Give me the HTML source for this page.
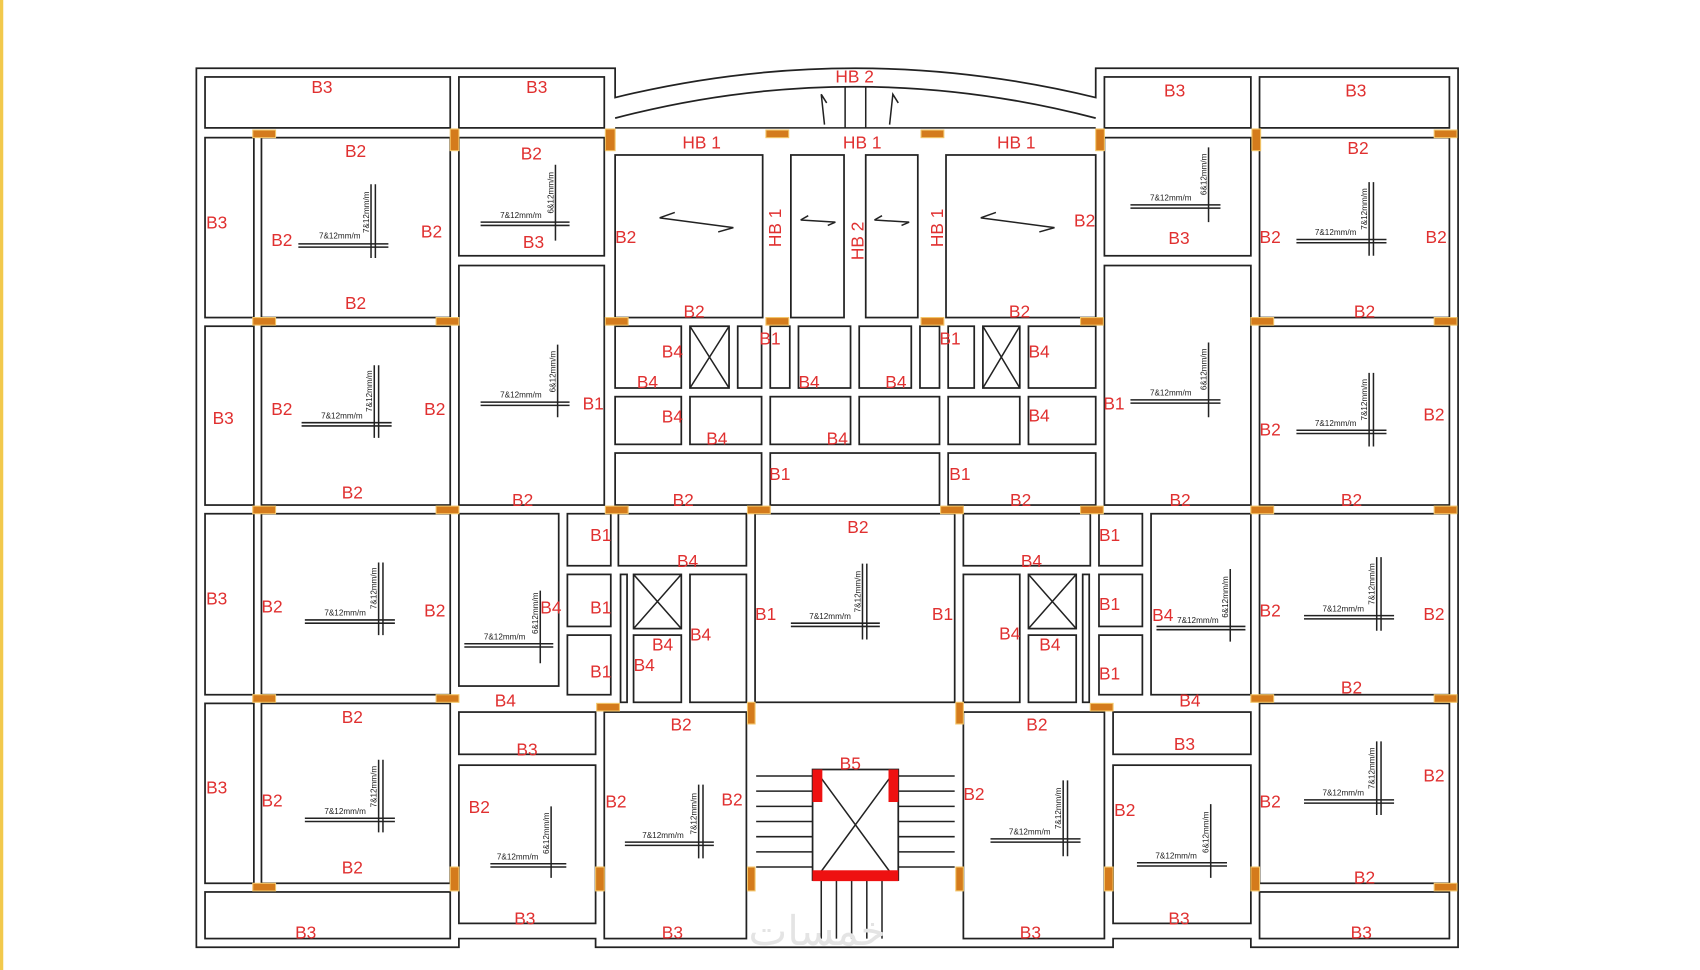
<!DOCTYPE html>
<html><head><meta charset="utf-8"><style>
html,body{margin:0;padding:0;background:#fff;width:1700px;height:970px;overflow:hidden}
svg{display:block}
.r{fill:none;stroke:#222;stroke-width:1.6}
.l{stroke:#222;stroke-width:1.4;fill:none}
.c{fill:#d47b1c;stroke:#f3c66a;stroke-width:1}
text{font-family:"Liberation Sans",sans-serif}
.t{fill:#e03030;font-size:16px}
.s{fill:#222;font-size:7.5px}
.red{fill:#ee1111}
</style></head><body>
<svg width="1700" height="970" viewBox="0 0 1567 895" preserveAspectRatio="none" xmlns="http://www.w3.org/2000/svg">
<rect x="0" y="0" width="3" height="895" fill="#f2c94c"/>
<!-- outer boundary -->
<path class="r" d="M181,874 V63 H567 V90 Q788,36 1010,90 V63 H1344 V874 H1153 V866 H1026 V874 H880 V874 H549 V866 H423 V874 Z"/>
<path class="r" d="M567,109 Q788,51 1010,109"/>
<path class="l" d="M567,118 H1010 M779,118 V80 M798,118 V80"/>
<path class="l" d="M760,115 L757,87 L762,95 M820,115 L823,87 L828,95" />
<!-- left wing -->
<rect class="r" x="189" y="71" width="226" height="47"/>
<rect class="r" x="423" y="71" width="134" height="47"/>
<rect class="r" x="189" y="127" width="45" height="166"/>
<rect class="r" x="241" y="127" width="174" height="166"/>
<rect class="r" x="189" y="301" width="45" height="165"/>
<rect class="r" x="241" y="301" width="174" height="165"/>
<rect class="r" x="189" y="474" width="45" height="167"/>
<rect class="r" x="241" y="474" width="174" height="167"/>
<rect class="r" x="189" y="649" width="45" height="166"/>
<rect class="r" x="241" y="649" width="174" height="166"/>
<rect class="r" x="189" y="823" width="226" height="43"/>
<rect class="r" x="423" y="127" width="134" height="109"/>
<rect class="r" x="423" y="245" width="134" height="221"/>
<rect class="r" x="423" y="474" width="92" height="159"/>
<rect class="r" x="523" y="474" width="40" height="48"/>
<rect class="r" x="523" y="530" width="40" height="48"/>
<rect class="r" x="523" y="586" width="40" height="55"/>
<rect class="r" x="570" y="474" width="118" height="48"/>
<rect class="r" x="572" y="530" width="6" height="118"/>
<rect class="r" x="584" y="530" width="44" height="50"/>
<path class="l" d="M584,530 L628,580 M628,530 L584,580"/>
<rect class="r" x="584" y="586" width="44" height="62"/>
<rect class="r" x="636" y="530" width="52" height="118"/>
<rect class="r" x="423" y="657" width="126" height="39"/>
<rect class="r" x="423" y="706" width="126" height="146"/>
<rect class="r" x="557" y="657" width="131" height="209"/>
<!-- center top -->
<rect class="r" x="567" y="143" width="136" height="150"/>
<rect class="r" x="729" y="143" width="49" height="150"/>
<rect class="r" x="798" y="143" width="48" height="150"/>
<rect class="r" x="872" y="143" width="138" height="150"/>
<rect class="r" x="567" y="301" width="61" height="57"/>
<rect class="r" x="636" y="301" width="36" height="57"/>
<path class="l" d="M636,301 L672,358 M672,301 L636,358"/>
<rect class="r" x="680" y="301" width="22" height="57"/>
<rect class="r" x="710" y="301" width="18" height="57"/>
<rect class="r" x="736" y="301" width="48" height="57"/>
<rect class="r" x="792" y="301" width="48" height="57"/>
<rect class="r" x="848" y="301" width="18" height="57"/>
<rect class="r" x="874" y="301" width="24" height="57"/>
<rect class="r" x="906" y="301" width="34" height="57"/>
<path class="l" d="M906,301 L940,358 M940,301 L906,358"/>
<rect class="r" x="948" y="301" width="62" height="57"/>
<rect class="r" x="567" y="366" width="61" height="44"/>
<rect class="r" x="636" y="366" width="66" height="44"/>
<rect class="r" x="710" y="366" width="74" height="44"/>
<rect class="r" x="792" y="366" width="74" height="44"/>
<rect class="r" x="874" y="366" width="66" height="44"/>
<rect class="r" x="948" y="366" width="62" height="44"/>
<rect class="r" x="567" y="418" width="135" height="48"/>
<rect class="r" x="710" y="418" width="156" height="48"/>
<rect class="r" x="874" y="418" width="136" height="48"/>
<rect class="r" x="696" y="474" width="184" height="174"/>
<!-- right side center -->
<rect class="r" x="888" y="474" width="117" height="48"/>
<rect class="r" x="888" y="530" width="52" height="118"/>
<rect class="r" x="948" y="530" width="44" height="50"/>
<path class="l" d="M948,530 L992,580 M992,530 L948,580"/>
<rect class="r" x="948" y="586" width="44" height="62"/>
<rect class="r" x="998" y="530" width="6" height="118"/>
<rect class="r" x="1013" y="474" width="40" height="48"/>
<rect class="r" x="1013" y="530" width="40" height="48"/>
<rect class="r" x="1013" y="586" width="40" height="55"/>
<rect class="r" x="1061" y="474" width="92" height="167"/>
<rect class="r" x="888" y="657" width="130" height="209"/>
<rect class="r" x="1026" y="657" width="127" height="39"/>
<rect class="r" x="1026" y="706" width="127" height="146"/>
<!-- right wing -->
<rect class="r" x="1018" y="71" width="135" height="47"/>
<rect class="r" x="1161" y="71" width="175" height="47"/>
<rect class="r" x="1018" y="127" width="135" height="109"/>
<rect class="r" x="1018" y="245" width="135" height="221"/>
<rect class="r" x="1161" y="127" width="175" height="166"/>
<rect class="r" x="1161" y="301" width="175" height="165"/>
<rect class="r" x="1161" y="474" width="175" height="167"/>
<rect class="r" x="1161" y="649" width="175" height="166"/>
<rect class="r" x="1161" y="823" width="175" height="43"/>
<!-- stair -->
<path class="l" d="M697,716 H749 M697,730 H749 M697,744 H749 M697,758 H749 M697,772 H749 M697,786 H749 M697,800 H749 M828,716 H880 M828,730 H880 M828,744 H880 M828,758 H880 M828,772 H880 M828,786 H880 M828,800 H880 M757,812 V866 M771,812 V866 M785,812 V866 M799,812 V866 M813,812 V866"/>
<rect class="r" x="749" y="710" width="79" height="102"/>
<path class="l" d="M757,718 L820,804 M820,718 L757,804"/>
<rect class="red" x="749" y="710" width="9" height="30"/>
<rect class="red" x="819" y="710" width="9" height="30"/>
<rect class="red" x="749" y="803" width="79" height="10"/>
<!-- columns -->
<g class="c">
<rect x="233" y="120" width="21" height="7"/><rect x="415" y="119" width="8" height="20"/><rect x="558" y="119" width="9" height="20"/><rect x="706" y="120" width="21" height="7"/><rect x="849" y="120" width="21" height="7"/><rect x="1010" y="119" width="8" height="20"/><rect x="1154" y="119" width="8" height="20"/><rect x="1322" y="120" width="21" height="7"/>
<rect x="233" y="293" width="21" height="7"/><rect x="402" y="293" width="21" height="7"/><rect x="558" y="293" width="21" height="7"/><rect x="706" y="293" width="21" height="7"/><rect x="849" y="293" width="21" height="7"/><rect x="996" y="293" width="21" height="7"/><rect x="1153" y="293" width="21" height="7"/><rect x="1322" y="293" width="21" height="7"/>
<rect x="233" y="467" width="21" height="7"/><rect x="402" y="467" width="21" height="7"/><rect x="558" y="467" width="21" height="7"/><rect x="689" y="467" width="21" height="7"/><rect x="867" y="467" width="21" height="7"/><rect x="996" y="467" width="21" height="7"/><rect x="1153" y="467" width="21" height="7"/><rect x="1322" y="467" width="21" height="7"/>
<rect x="233" y="641" width="21" height="7"/><rect x="402" y="641" width="21" height="7"/><rect x="550" y="649" width="21" height="7"/><rect x="689" y="648" width="7" height="20"/><rect x="881" y="648" width="7" height="20"/><rect x="1005" y="649" width="21" height="7"/><rect x="1153" y="641" width="21" height="7"/><rect x="1322" y="641" width="21" height="7"/>
<rect x="233" y="815" width="21" height="7"/><rect x="415" y="800" width="8" height="22"/><rect x="549" y="800" width="8" height="22"/><rect x="689" y="800" width="7" height="22"/><rect x="881" y="800" width="7" height="22"/><rect x="1018" y="800" width="8" height="22"/><rect x="1153" y="800" width="8" height="22"/><rect x="1322" y="815" width="21" height="7"/>
</g>
<!-- arrows in stair rooms -->
<path class="l" d="M608,201 L676,210 L662,214 M608,201 L622,196 M738,203 L770,205 L763,208 M738,203 L745,199 M806,203 L838,205 L831,208 M806,203 L813,199 M904,201 L972,210 L958,214 M904,201 L918,196"/>
<!-- rebar marks -->
<g class="l">
<path d="M275,225 H358 M275,228 H358 M342,170 V238 M346,170 V238"/>
<path d="M278,390 H361 M278,393 H361 M345,337 V404 M349,337 V404"/>
<path d="M281,572 H364 M281,575 H364 M349,519 V586 M353,519 V586"/>
<path d="M281,755 H364 M281,758 H364 M349,701 V768 M353,701 V768"/>
<path d="M443,205 H525 M443,208 H525 M512,152 V222"/>
<path d="M443,371 H525 M443,374 H525 M514,318 V385"/>
<path d="M428,594 H510 M428,597 H510 M498,545 V612"/>
<path d="M452,797 H522 M452,800 H522 M508,744 V810"/>
<path d="M576,777 H658 M576,780 H658 M644,724 V792 M648,724 V792"/>
<path d="M729,575 H811 M729,578 H811 M795,520 V590 M799,520 V590"/>
<path d="M913,774 H996 M913,777 H996 M980,720 V790 M984,720 V790"/>
<path d="M1042,189 H1125 M1042,192 H1125 M1114,136 V205"/>
<path d="M1042,369 H1125 M1042,372 H1125 M1114,316 V385"/>
<path d="M1066,578 H1148 M1066,581 H1148 M1134,525 V592"/>
<path d="M1048,796 H1131 M1048,799 H1131 M1116,742 V810"/>
<path d="M1195,221 H1278 M1195,224 H1278 M1262,168 V236 M1266,168 V236"/>
<path d="M1195,397 H1278 M1195,400 H1278 M1262,344 V412 M1266,344 V412"/>
<path d="M1202,568 H1285 M1202,571 H1285 M1269,514 V582 M1273,514 V582"/>
<path d="M1202,738 H1285 M1202,741 H1285 M1269,684 V752 M1273,684 V752"/>
</g>
<g class="s">
<text x="294" y="220">7&amp;12mm/m</text><text transform="translate(340,215) rotate(-90)">7&amp;12mm/m</text>
<text x="296" y="386">7&amp;12mm/m</text><text transform="translate(343,380) rotate(-90)">7&amp;12mm/m</text>
<text x="299" y="568">7&amp;12mm/m</text><text transform="translate(347,562) rotate(-90)">7&amp;12mm/m</text>
<text x="299" y="751">7&amp;12mm/m</text><text transform="translate(347,745) rotate(-90)">7&amp;12mm/m</text>
<text x="461" y="201">7&amp;12mm/m</text><text transform="translate(510,197) rotate(-90)">6&amp;12mm/m</text>
<text x="461" y="367">7&amp;12mm/m</text><text transform="translate(512,362) rotate(-90)">6&amp;12mm/m</text>
<text x="446" y="590">7&amp;12mm/m</text><text transform="translate(496,585) rotate(-90)">6&amp;12mm/m</text>
<text x="458" y="793">7&amp;12mm/m</text><text transform="translate(506,788) rotate(-90)">6&amp;12mm/m</text>
<text x="592" y="773">7&amp;12mm/m</text><text transform="translate(642,770) rotate(-90)">7&amp;12mm/m</text>
<text x="746" y="571">7&amp;12mm/m</text><text transform="translate(793,565) rotate(-90)">7&amp;12mm/m</text>
<text x="930" y="770">7&amp;12mm/m</text><text transform="translate(978,765) rotate(-90)">7&amp;12mm/m</text>
<text x="1060" y="185">7&amp;12mm/m</text><text transform="translate(1112,180) rotate(-90)">6&amp;12mm/m</text>
<text x="1060" y="365">7&amp;12mm/m</text><text transform="translate(1112,360) rotate(-90)">6&amp;12mm/m</text>
<text x="1085" y="575">7&amp;12mm/m</text><text transform="translate(1132,570) rotate(-90)">6&amp;12mm/m</text>
<text x="1065" y="792">7&amp;12mm/m</text><text transform="translate(1114,787) rotate(-90)">6&amp;12mm/m</text>
<text x="1212" y="217">7&amp;12mm/m</text><text transform="translate(1260,212) rotate(-90)">7&amp;12mm/m</text>
<text x="1212" y="393">7&amp;12mm/m</text><text transform="translate(1260,388) rotate(-90)">7&amp;12mm/m</text>
<text x="1219" y="564">7&amp;12mm/m</text><text transform="translate(1267,558) rotate(-90)">7&amp;12mm/m</text>
<text x="1219" y="734">7&amp;12mm/m</text><text transform="translate(1267,728) rotate(-90)">7&amp;12mm/m</text>
</g>
<!-- labels -->
<g class="t">
<text x="287" y="86">B3</text><text x="485" y="86">B3</text><text x="770" y="76">HB 2</text><text x="1073" y="89">B3</text><text x="1240" y="89">B3</text>
<text x="629" y="137">HB 1</text><text x="777" y="137">HB 1</text><text x="919" y="137">HB 1</text>
<text x="318" y="145">B2</text><text x="480" y="147">B2</text><text x="1242" y="142">B2</text>
<text x="190" y="211">B3</text><text x="250" y="227">B2</text><text x="388" y="219">B2</text><text x="482" y="229">B3</text><text x="567" y="224">B2</text><text x="990" y="209">B2</text><text x="1077" y="225">B3</text><text x="1161" y="224">B2</text><text x="1314" y="224">B2</text>
<text transform="translate(720,228) rotate(-90)">HB 1</text><text transform="translate(796,240) rotate(-90)">HB 2</text><text transform="translate(869,228) rotate(-90)">HB 1</text>
<text x="318" y="285">B2</text><text x="630" y="293">B2</text><text x="930" y="293">B2</text><text x="1248" y="293">B2</text>
<text x="610" y="330">B4</text><text x="700" y="318">B1</text><text x="866" y="318">B1</text><text x="948" y="330">B4</text>
<text x="587" y="358">B4</text><text x="736" y="358">B4</text><text x="816" y="358">B4</text>
<text x="196" y="391">B3</text><text x="250" y="383">B2</text><text x="391" y="383">B2</text><text x="537" y="378">B1</text><text x="610" y="390">B4</text><text x="948" y="389">B4</text><text x="1017" y="378">B1</text><text x="1161" y="402">B2</text><text x="1312" y="388">B2</text>
<text x="651" y="410">B4</text><text x="762" y="410">B4</text>
<text x="709" y="443">B1</text><text x="875" y="443">B1</text>
<text x="315" y="460">B2</text><text x="472" y="467">B2</text><text x="620" y="467">B2</text><text x="931" y="467">B2</text><text x="1078" y="467">B2</text><text x="1236" y="467">B2</text>
<text x="781" y="492">B2</text><text x="544" y="499">B1</text><text x="1013" y="499">B1</text><text x="624" y="523">B4</text><text x="941" y="523">B4</text>
<text x="190" y="558">B3</text><text x="241" y="565">B2</text><text x="391" y="569">B2</text><text x="498" y="566">B4</text><text x="544" y="566">B1</text><text x="696" y="572">B1</text><text x="859" y="572">B1</text><text x="1013" y="563">B1</text><text x="1062" y="573">B4</text><text x="1161" y="569">B2</text><text x="1312" y="572">B2</text>
<text x="601" y="600">B4</text><text x="636" y="591">B4</text><text x="921" y="590">B4</text><text x="958" y="600">B4</text>
<text x="544" y="625">B1</text><text x="584" y="619">B4</text><text x="1013" y="627">B1</text>
<text x="456" y="652">B4</text><text x="1087" y="652">B4</text><text x="1236" y="640">B2</text>
<text x="315" y="667">B2</text><text x="618" y="674">B2</text><text x="946" y="674">B2</text>
<text x="476" y="697">B3</text><text x="1082" y="692">B3</text><text x="774" y="710">B5</text>
<text x="190" y="732">B3</text><text x="241" y="744">B2</text><text x="432" y="750">B2</text><text x="558" y="745">B2</text><text x="665" y="743">B2</text><text x="888" y="738">B2</text><text x="1027" y="753">B2</text><text x="1161" y="745">B2</text><text x="1312" y="721">B2</text>
<text x="315" y="806">B2</text><text x="1248" y="815">B2</text>
<text x="272" y="866">B3</text><text x="474" y="853">B3</text><text x="610" y="866">B3</text><text x="940" y="866">B3</text><text x="1077" y="853">B3</text><text x="1245" y="866">B3</text>
</g>
<text x="690" y="872" fill="#e4e4e4" font-size="38" font-family="DejaVu Sans,sans-serif">خمسات</text>
</svg>
</body></html>
